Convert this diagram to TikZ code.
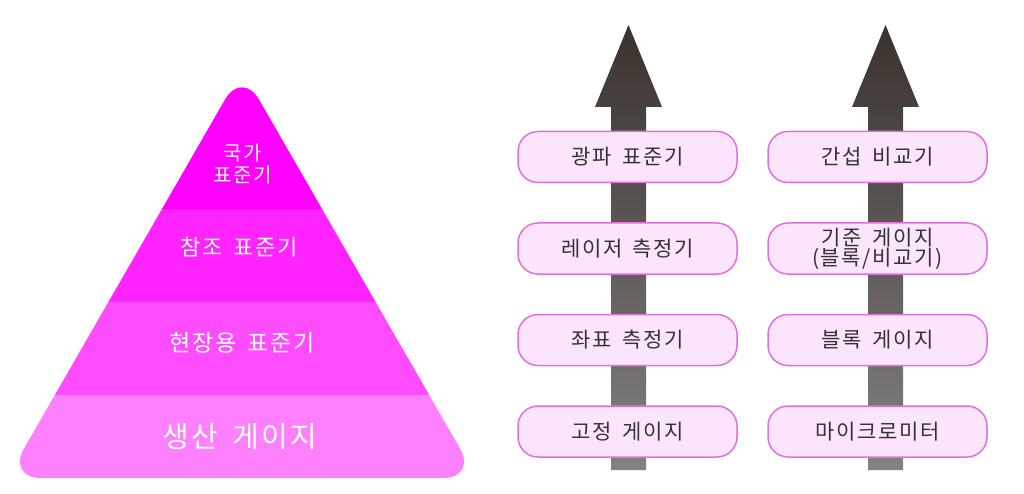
\documentclass[tikz,border=0pt]{standalone}
\usepackage{fontspec}
\setmainfont[WordSpace=1.6,LetterSpace=8]{Noto Sans CJK KR}
\usetikzlibrary{positioning}
\definecolor{tierA}{HTML}{FF00FF}
\definecolor{tierB}{HTML}{FF24FF}
\definecolor{tierC}{HTML}{FF4CFF}
\definecolor{tierD}{HTML}{FF80FF}
\definecolor{boxfill}{HTML}{FCE4FC}
\definecolor{boxline}{HTML}{E070E0}
\definecolor{boxtext}{HTML}{333333}
\definecolor{arrtop}{HTML}{3A322D}
\definecolor{arrbot}{HTML}{828282}

\begin{document}
\begin{tikzpicture}
[x=1pt,y=-1pt,
every node/.style={align=center,inner sep=0pt},
tier/.style={text=white,font=\fontsize{#1}{22}\selectfont},
box/.style={shape=rectangle,rounded corners=20pt,draw=boxline,fill=boxfill,line width=1.5pt,
  minimum width=219pt,minimum height=51pt,text=boxtext,font=\fontsize{21}{20}\selectfont},
up/.style={top color=arrtop,bottom color=arrbot}]
\useasboundingbox (0,0) rectangle (1024,494);

% pyramid
\begin{scope}
\clip[rounded corners=34pt] (242,70) -- (477,478) -- (7,478) -- cycle;
\fill[tierA] (0,0) rectangle (500,209);
\fill[tierB] (0,209) rectangle (500,302);
\fill[tierC] (0,302) rectangle (500,395);
\fill[tierD] (0,395) rectangle (500,494);
\end{scope}
\node[tier=20] (t1) at (243,164) {국가\\표준기};
\node[tier=22] (t2) at (239,247) {참조 표준기};
\node[tier=23] (t3) at (242,343) {현장용 표준기};
\node[tier=29] (t4) at (240,437) {생산 게이지};

% arrows
\shade[up] (611,470) -- (611,107) -- (595,107) -- (628.5,25) -- (662,107) -- (646,107) -- (646,470) -- cycle;
\shade[up] (868,470) -- (868,107) -- (852,107) -- (885.5,25) -- (919,107) -- (903,107) -- (903,470) -- cycle;

% boxes
\node[box] (l1) at (627.5,157) {광파 표준기};
\node[box,below=39pt of l1] (l2) {레이저 측정기};
\node[box,below=39pt of l2] (l3) {좌표 측정기};
\node[box,below=39pt of l3] (l4) {고정 게이지};
\node[box] (r1) at (877.5,157) {간섭 비교기};
\node[box,below=39pt of r1] (r2) {기준 게이지\\(블록/비교기)};
\node[box,below=39pt of r2] (r3) {블록 게이지};
\node[box,below=39pt of r3] (r4) {마이크로미터};
\end{tikzpicture}
\end{document}
